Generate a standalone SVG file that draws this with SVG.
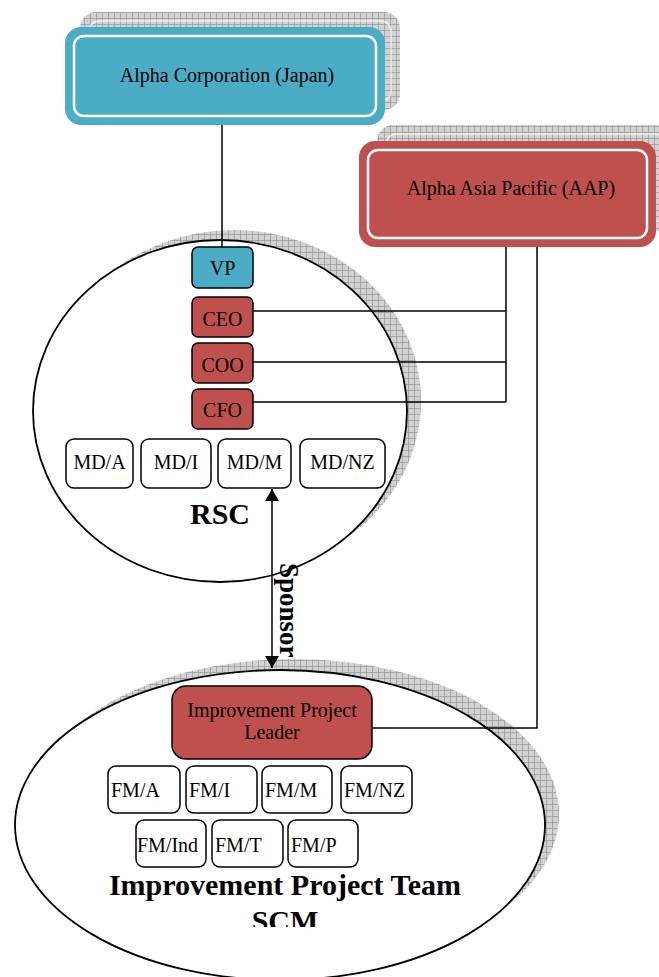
<svg xmlns="http://www.w3.org/2000/svg" width="659" height="977" viewBox="0 0 659 977">
<style>
  .t { font-family: "Liberation Serif", "Times New Roman", serif; font-size: 20px; fill: #000; }
  .tb { font-family: "Liberation Serif", "Times New Roman", serif; font-weight: bold; fill: #000; }
  .teal { fill: #4BACC6; }
  .red { fill: #C0504D; }
  .box { stroke: #000; stroke-width: 1.5; }
  .wbox { fill: #fff; stroke: #000; stroke-width: 1.5; }
  .conn { fill: none; stroke: #000; stroke-width: 1.5; }
  .shadow { fill: url(#hatch); }
  .inner { fill: none; stroke: #fff; stroke-width: 2.5; }
</style>
<defs>
  <pattern id="hatch" width="6" height="6" patternUnits="userSpaceOnUse">
    <rect width="6" height="6" fill="#d2d2d2"/>
    <path d="M0 0.5H6M0.5 0V6" stroke="#9c9c9c" stroke-width="0.8"/>
  </pattern>
  <marker id="ah" viewBox="0 0 12 14" refX="12" refY="7" markerWidth="12" markerHeight="14" markerUnits="userSpaceOnUse" orient="auto-start-reverse">
    <path d="M0,0 L12,7 L0,14 Z" fill="#000"/>
  </marker>
  <clipPath id="scmclip"><rect x="0" y="880" width="659" height="47"/></clipPath>
</defs>

<!-- shadows -->
<g id="shadows">
  <rect class="shadow" x="80" y="12" width="320" height="98" rx="16"/>
  <rect x="89" y="21" width="302" height="80" rx="10" fill="none" stroke="#fff" stroke-width="1.5" opacity="0.7"/>
  <rect class="shadow" x="377" y="125" width="297" height="106" rx="16"/>
  <rect x="386" y="134" width="279" height="88" rx="10" fill="none" stroke="#fff" stroke-width="1.5" opacity="0.7"/>
  <ellipse class="shadow" cx="234" cy="401" rx="187" ry="171"/>
  <ellipse class="shadow" cx="294" cy="814" rx="265" ry="155"/>
</g>

<g id="rsc">
  <ellipse cx="220" cy="411" rx="187" ry="171" fill="#fff" stroke="#000" stroke-width="1.8"/>
  <text class="tb" x="220" y="524" font-size="30" text-anchor="middle">RSC</text>
</g>

<g id="ipt">
  <ellipse cx="280" cy="825" rx="265" ry="155" fill="#fff" stroke="#000" stroke-width="1.8"/>
  <text class="tb" x="285" y="895" font-size="30" text-anchor="middle">Improvement Project Team</text>
  <text class="tb" x="285" y="931" font-size="30" text-anchor="middle" clip-path="url(#scmclip)">SCM</text>
</g>

<g id="alpha-corp">
  <rect class="teal" x="65" y="27" width="320" height="98" rx="16"/>
  <rect class="inner" x="74" y="36" width="302" height="80" rx="10"/>
  <text class="t" x="227" y="82" text-anchor="middle">Alpha Corporation (Japan)</text>
</g>

<g id="aap">
  <rect class="red" x="359" y="141" width="297" height="106" rx="16"/>
  <rect class="inner" x="368" y="150" width="279" height="88" rx="10"/>
  <text class="t" x="511" y="195" text-anchor="middle">Alpha Asia Pacific (AAP)</text>
</g>

<g id="connectors">
  <line class="conn" x1="222" y1="125" x2="222" y2="247"/>
  <polyline class="conn" points="253,311 506,311"/>
  <polyline class="conn" points="253,362 506,362"/>
  <polyline class="conn" points="253,402 506,402"/>
  <line class="conn" x1="506" y1="247" x2="506" y2="402"/>
  <polyline class="conn" points="372,728 537,728 537,247"/>
  <line class="conn" x1="272" y1="489" x2="272" y2="668" marker-start="url(#ah)" marker-end="url(#ah)"/>
  <text class="tb" font-size="27" transform="translate(280,563) rotate(90)">Sponsor</text>
</g>

<g id="vp">
  <rect class="teal box" x="192" y="247" width="61" height="41" rx="6"/>
  <text class="t" x="222.5" y="275" text-anchor="middle">VP</text>
</g>
<g id="ceo">
  <rect class="red box" x="192" y="297" width="61" height="40" rx="6"/>
  <text class="t" x="222.5" y="326" text-anchor="middle">CEO</text>
</g>
<g id="coo">
  <rect class="red box" x="192" y="343" width="61" height="40" rx="6"/>
  <text class="t" x="222.5" y="372" text-anchor="middle">COO</text>
</g>
<g id="cfo">
  <rect class="red box" x="192" y="389" width="61" height="40" rx="6"/>
  <text class="t" x="222.5" y="417" text-anchor="middle">CFO</text>
</g>

<g id="md-a"><rect class="wbox" x="66" y="439" width="67" height="49" rx="8"/><text class="t" x="99.5" y="469" text-anchor="middle">MD/A</text></g>
<g id="md-i"><rect class="wbox" x="141" y="439" width="70" height="49" rx="8"/><text class="t" x="176" y="469" text-anchor="middle">MD/I</text></g>
<g id="md-m"><rect class="wbox" x="218" y="439" width="73" height="49" rx="8"/><text class="t" x="254.5" y="469" text-anchor="middle">MD/M</text></g>
<g id="md-nz"><rect class="wbox" x="300" y="439" width="85" height="49" rx="8"/><text class="t" x="342.5" y="469" text-anchor="middle">MD/NZ</text></g>

<g id="leader">
  <rect class="red box" x="172" y="686" width="200" height="73" rx="14"/>
  <text class="t" x="272" y="717" text-anchor="middle">Improvement Project</text>
  <text class="t" x="272" y="739" text-anchor="middle">Leader</text>
</g>

<g id="fm-a"><rect class="wbox" x="108" y="766" width="72" height="47" rx="8"/><text class="t" x="111" y="797">FM/A</text></g>
<g id="fm-i"><rect class="wbox" x="186" y="766" width="71" height="47" rx="8"/><text class="t" x="189" y="797">FM/I</text></g>
<g id="fm-m"><rect class="wbox" x="262" y="766" width="70" height="47" rx="8"/><text class="t" x="265" y="797">FM/M</text></g>
<g id="fm-nz"><rect class="wbox" x="341" y="766" width="71" height="47" rx="8"/><text class="t" x="344" y="797">FM/NZ</text></g>
<g id="fm-ind"><rect class="wbox" x="136" y="820" width="70" height="47" rx="8"/><text class="t" x="137" y="852">FM/Ind</text></g>
<g id="fm-t"><rect class="wbox" x="212" y="820" width="71" height="47" rx="8"/><text class="t" x="215" y="852">FM/T</text></g>
<g id="fm-p"><rect class="wbox" x="288" y="820" width="70" height="47" rx="8"/><text class="t" x="291" y="852">FM/P</text></g>
</svg>
